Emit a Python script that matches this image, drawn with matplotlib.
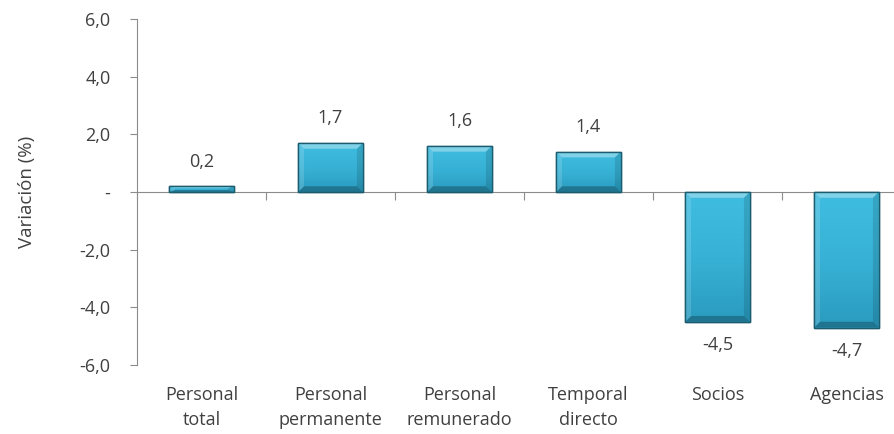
import matplotlib
matplotlib.use("Agg")
import matplotlib.pyplot as plt
import matplotlib.transforms as mtransforms
from matplotlib.patches import Polygon
import numpy as np

categories = ["Personal\ntotal", "Personal\npermanente", "Personal\nremunerado",
              "Temporal\ndirecto", "Socios", "Agencias"]
values = [0.2, 1.7, 1.6, 1.4, -4.5, -4.7]
value_labels = ["0,2", "1,7", "1,6", "1,4", "-4,5", "-4,7"]
yticks = [-6, -4, -2, 0, 2, 4, 6]
ytick_labels = ["-6,0", "-4,0", "-2,0", "-", "2,0", "4,0", "6,0"]

plt.rcParams['font.family'] = ['Open Sans', 'DejaVu Sans']
txt = '#404040'
grey = '#8c8c8c'
fs = 13

fig = plt.figure(figsize=(8.94, 4.34), dpi=100)
ax = fig.add_axes([137/894, 1-365/434, 774/894, 346/434])

x = np.arange(len(values))
bw = 0.5
edge = '#1b5c6e'

ax.set_xlim(-0.5, len(values) - 0.5)
ax.set_ylim(-6, 6)

bars = ax.bar(x, values, width=bw, color='#37b2d6', edgecolor=edge,
              linewidth=1.0, zorder=3)

cmap = matplotlib.colors.LinearSegmentedColormap.from_list(
    'g', ['#2a9bbf', '#37b2d6', '#3fbde0'])
grad = np.linspace(0, 1, 256).reshape(-1, 1)

for b, v in zip(bars, values):
    l = b.get_x()
    r = l + b.get_width()
    bot = min(0, v)
    top = max(0, v)
    h = top - bot
    im = ax.imshow(grad, cmap=cmap, origin='lower', aspect='auto',
                   extent=(l, r, bot, top), zorder=3.2)
    im.set_clip_path(b)
    bx = 0.045
    by = min(0.2, h * 0.35)
    bevels = [
        ([(l, top), (r, top), (r - bx, top - by), (l + bx, top - by)], 'white', 0.35),
        ([(l, bot), (r, bot), (r - bx, bot + by), (l + bx, bot + by)], 'black', 0.25),
        ([(l, bot), (l, top), (l + bx, top - by), (l + bx, bot + by)], 'white', 0.15),
        ([(r, bot), (r, top), (r - bx, top - by), (r - bx, bot + by)], 'black', 0.12),
    ]
    for pts, col, a in bevels:
        ax.add_patch(Polygon(pts, closed=True, facecolor=col, alpha=a,
                             edgecolor='none', zorder=4))
    ax.add_patch(Polygon([(l, bot), (r, bot), (r, top), (l, top)], closed=True,
                         facecolor='none', edgecolor=edge, linewidth=1.0, zorder=5))

for xi, v, lab in zip(x, values, value_labels):
    if v >= 0:
        ax.text(xi, v + 0.85, lab, ha='center', va='center', fontsize=fs, color=txt)
    else:
        ax.text(xi, v - 0.82, lab, ha='center', va='center', fontsize=fs, color=txt)

ax.set_yticks(yticks)
ax.set_yticklabels(ytick_labels)
ax.tick_params(axis='y', colors=grey, labelcolor=txt, labelsize=fs, length=5,
               direction='out', pad=14)

ax.spines['top'].set_visible(False)
ax.spines['right'].set_visible(False)
ax.spines['left'].set_color(grey)
ax.spines['bottom'].set_position(('data', 0))
ax.spines['bottom'].set_color(grey)
ax.set_xticks(np.arange(len(values) + 1) - 0.5)
ax.set_xticklabels([])
ax.tick_params(axis='x', colors=grey, length=6, direction='out')
ax.set_xlim(-0.5, len(values) - 0.5)
ax.set_ylim(-6, 6)

trans = mtransforms.blended_transform_factory(ax.transData, ax.transAxes)
for xi, c in zip(x, categories):
    ax.text(xi, -0.06, c, transform=trans, ha='center', va='top', fontsize=fs,
            color=txt, linespacing=1.55)

ax.set_ylabel("Variación (%)", fontsize=fs + 0.5, color=txt)
ax.yaxis.set_label_coords(-0.13, 0.5)

fig.savefig("out.png", dpi=100)
